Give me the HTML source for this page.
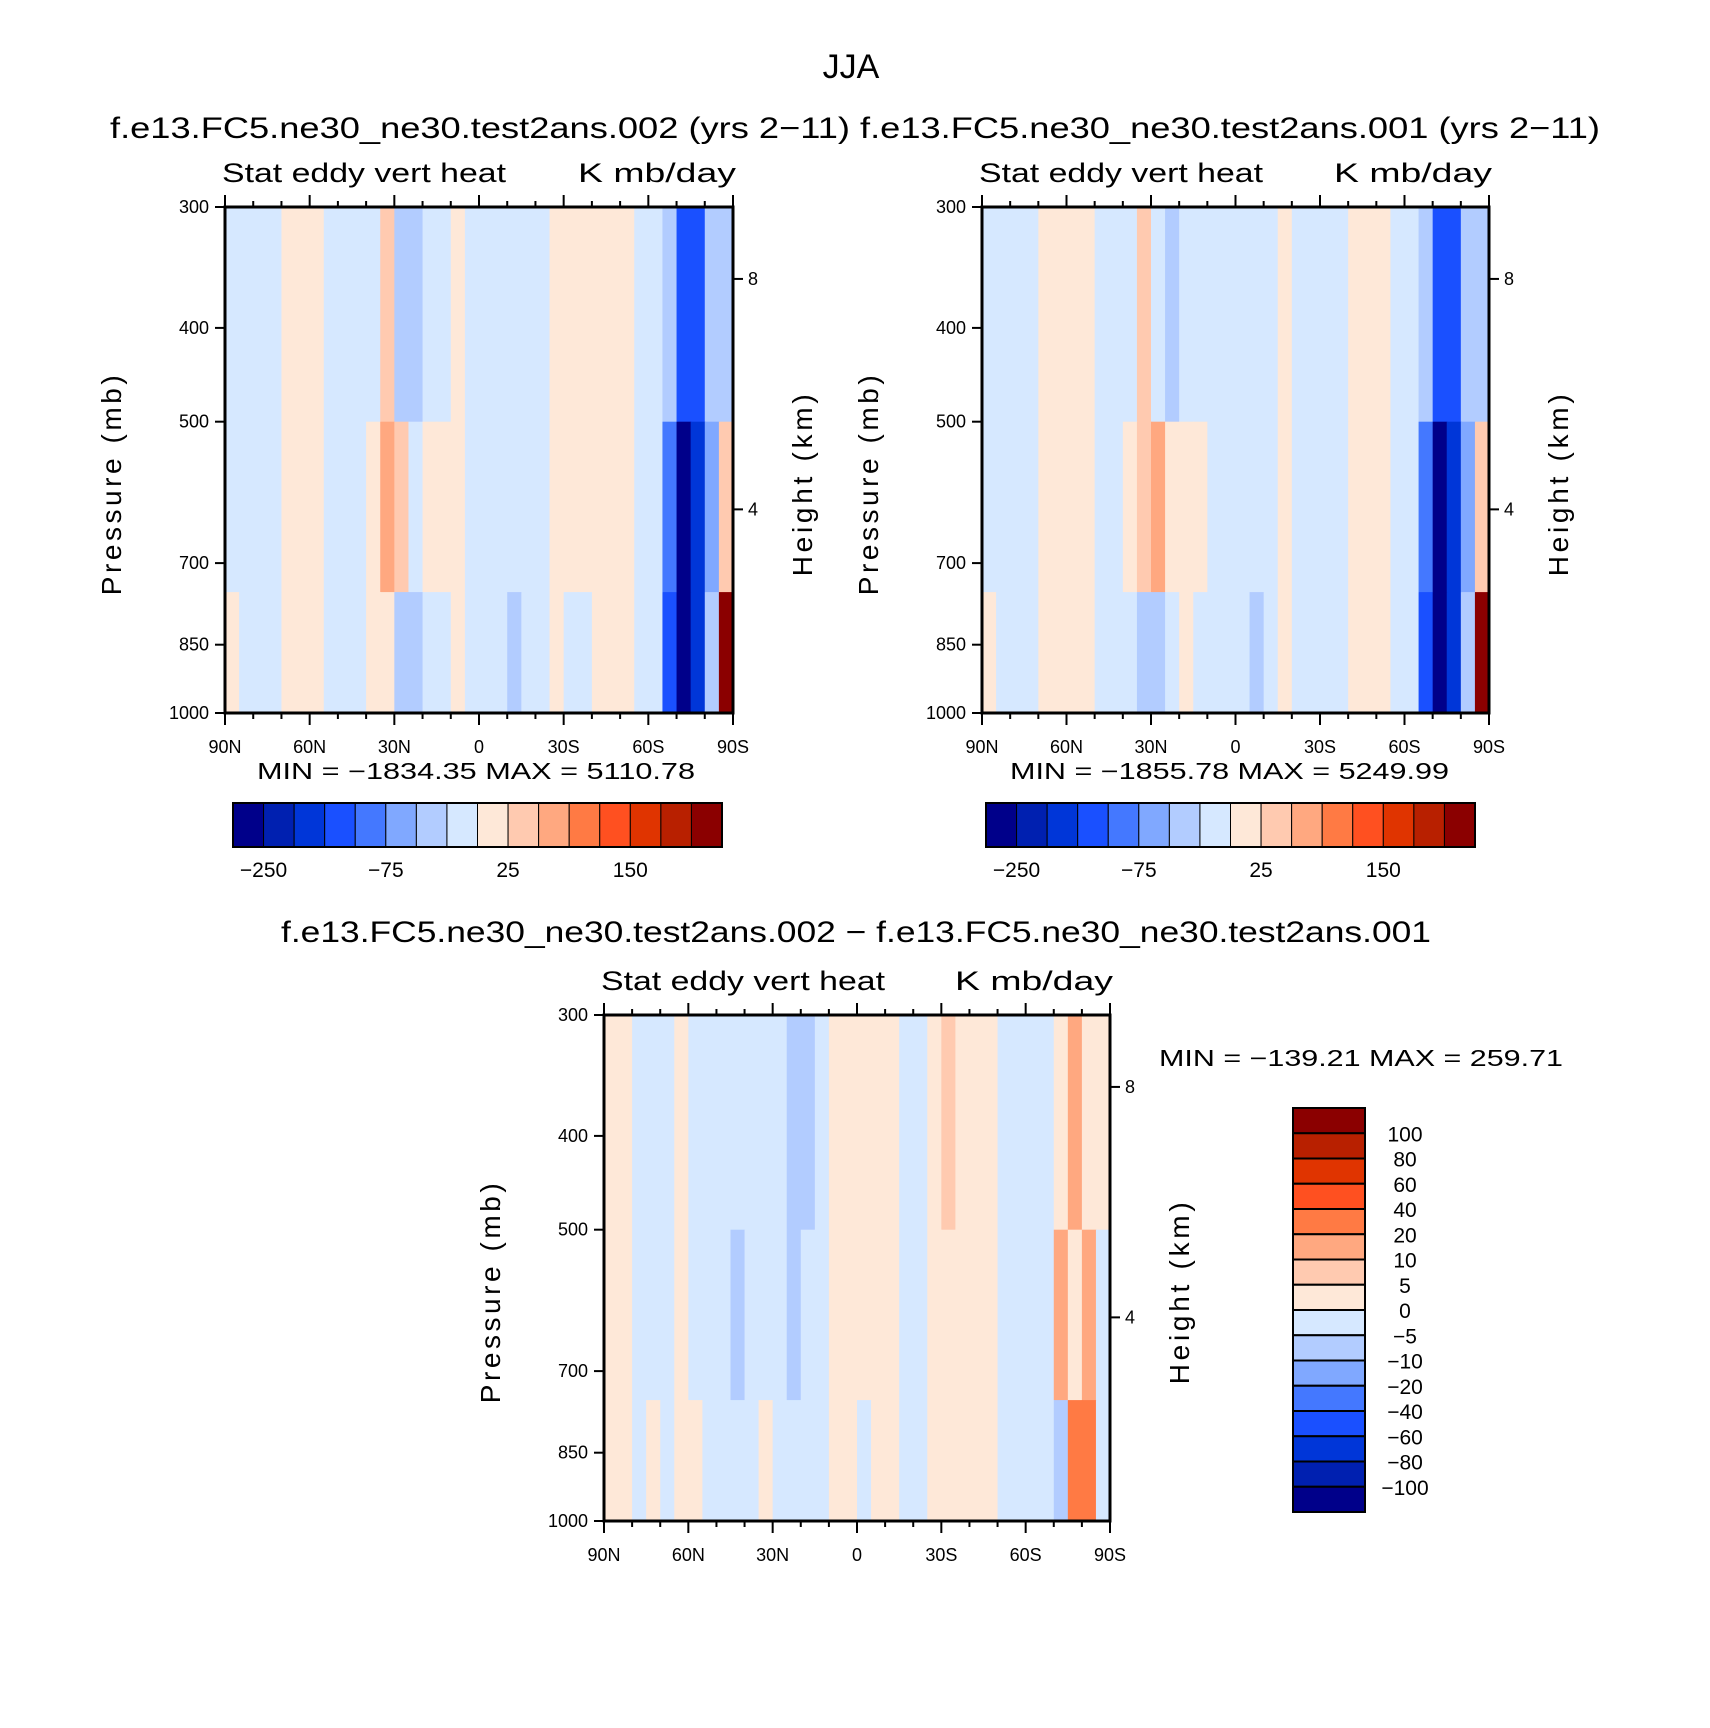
<!DOCTYPE html>
<html><head><meta charset="utf-8"><style>
html,body{margin:0;padding:0;background:#fff}
svg{display:block}
text{font-family:"Liberation Sans",sans-serif;fill:#000}
</style></head><body>
<svg id="fig" width="1710" height="1728" viewBox="0 0 1710 1728">
<text x="851" y="78" font-size="34" text-anchor="middle">JJA</text>
<text x="110" y="138" font-size="30" textLength="1490" lengthAdjust="spacingAndGlyphs">f.e13.FC5.ne30_ne30.test2ans.002 (yrs 2−11) f.e13.FC5.ne30_ne30.test2ans.001 (yrs 2−11)</text>
<text x="281" y="942" font-size="30" textLength="1150" lengthAdjust="spacingAndGlyphs">f.e13.FC5.ne30_ne30.test2ans.002 − f.e13.FC5.ne30_ne30.test2ans.001</text>
</svg>
<script>
// ---- data ----
const latEdges = [90,85,80,75,70,65,60,55,50,45,40,35,30,25,20,15,10,5,0,-5,-10,-15,-20,-25,-30,-35,-40,-45,-50,-55,-60,-65,-70,-75,-80,-85,-90];
const presEdges = [300,500,750,1000];
const latTicks = [90,60,30,0,-30,-60,-90];
const latTickLabels = ['90N','60N','30N','0','30S','60S','90S'];
const presTicks = [300,400,500,700,850,1000];
const heightTicks = [8,4];
const heightTickPres = [356,616];
const fullLevels = [-250,-200,-150,-100,-75,-50,-25,0,25,50,75,100,150,200,250];
const fullLabels = ['-250','-75','25','150'];
const fullLabelIdx = [0,4,8,12];
const diffLevels = [-100,-80,-60,-40,-20,-10,-5,0,5,10,20,40,60,80,100];
const diffLabels = ['100','80','60','40','20','10','5','0','−5','−10','−20','−40','−60','−80','−100'];
const colors = ['#00008a','#0020b0','#0036d8','#1a50ff','#4478ff','#80a8ff','#b2ccff','#d6e8ff','#fee8d8','#ffcab0','#ffa880','#ff7a44','#ff5020','#e03400','#b82000','#8b0000'];
// panel A (.002) values per latitude bin for 3 pressure layers
const aUpper = [-10,-10,-10,-10,10,10,10,-10,-10,-10,-10,30,-30,-30,-10,-10,10,-10,-10,-10,-10,-10,-10,10,10,10,10,10,10,-10,-10,-30,-150,-120,-50,-30];
const aMiddle = [-10,-10,-10,-10,10,10,10,-10,-10,-10,10,60,30,-10,10,10,10,-10,-10,-10,-10,-10,-10,10,10,10,10,10,10,-10,-10,-100,-260,-200,-60,30];
const aLower = [10,-10,-10,-10,10,10,10,-10,-10,-10,10,10,-40,-30,-10,-10,10,-10,-10,-10,-30,-10,-10,10,-10,-10,10,10,10,-10,-10,-150,-260,-200,-30,260];
// panel B (.001)
const bUpper = [-10,-10,-10,-10,10,10,10,10,-10,-10,-10,30,-10,-30,-10,-10,-10,-10,-10,-10,-10,10,-10,-10,-10,-10,10,10,10,-10,-10,-30,-150,-120,-50,-30];
const bMiddle = [-10,-10,-10,-10,10,10,10,10,-10,-10,10,40,60,10,10,10,-10,-10,-10,-10,-10,10,-10,-10,-10,-10,10,10,10,-10,-10,-100,-260,-200,-60,30];
const bLower = [10,-10,-10,-10,10,10,10,10,-10,-10,-10,-40,-30,-10,10,-10,-10,-10,-10,-30,-10,10,-10,-10,-10,-10,10,10,10,-10,-10,-150,-260,-200,-30,260];
// diff panel
const dUpper = [3,3,-3,-3,-3,3,-3,-3,-3,-3,-3,-3,-3,-7,-7,-3,3,3,3,3,3,-3,-3,3,7,3,3,3,-3,-3,-3,-3,3,15,3,3];
const dMiddle = [3,3,-3,-3,-3,3,-3,-3,-3,-7,-3,-3,-3,-7,-3,-3,3,3,3,3,3,-3,-3,3,3,3,3,3,-3,-3,-3,-3,15,3,15,-3];
const dLower = [3,3,-3,3,-3,3,3,-3,-3,-3,-3,3,-3,-3,-3,-3,3,3,-3,3,3,-3,-3,3,3,3,3,3,-3,-3,-3,-3,-10,30,30,-5];

const NS = 'http://www.w3.org/2000/svg';
const fig = document.getElementById('fig');
function el(tag, attrs, parent){const e=document.createElementNS(NS,tag);for(const k in attrs)e.setAttribute(k,attrs[k]);(parent||fig).appendChild(e);return e;}
function levelIndex(v, levels){let i=0;while(i<levels.length && v>=levels[i])i++;return i;}

function drawPanel(px,py,pw,ph,rows,levels,name){
  const xs = lat => px + (90-lat)/180*pw;
  const ys = p => py + ph*Math.log(p/300)/Math.log(1000/300);
  const g = el('g',{});
  
  
  for(let r=0;r<rows.length;r++){
    const vals = rows[r];
    for(let i=0;i<vals.length;i++){
      const x0=xs(latEdges[i]), x1=xs(latEdges[i+1]);
      const y0=ys(presEdges[r]), y1=ys(presEdges[r+1]);
      const c = el('rect',{x:x0,y:y0,width:x1-x0+0.6,height:y1-y0+0.6,fill:colors[levelIndex(vals[i],levels)]},g);
      
      
    }
  }
  el('rect',{x:px,y:py,width:pw,height:ph,fill:'none',stroke:'#000','stroke-width':3},g);
  for(let lat=90;lat>=-90;lat-=10){
    const x=xs(lat);const major=(lat%30===0);const L=major?12:6;
    el('line',{x1:x,y1:py+ph,x2:x,y2:py+ph+L,stroke:'#000','stroke-width':2},g);
    el('line',{x1:x,y1:py,x2:x,y2:py-L,stroke:'#000','stroke-width':2},g);
  }
  latTicks.forEach((lat,k)=>{
    const t=el('text',{x:xs(lat),y:py+ph+40,'font-size':18,'text-anchor':'middle'},g);
    t.textContent=latTickLabels[k];
    
    
  });
  presTicks.forEach(p=>{
    const y=ys(p);
    el('line',{x1:px,y1:y,x2:px-10,y2:y,stroke:'#000','stroke-width':2},g);
    const t=el('text',{x:px-16,y:y+6,'font-size':18,'text-anchor':'end'},g);
    t.textContent=p;
    
    
  });
  heightTickPres.forEach((p,k)=>{
    const y=ys(p);
    el('line',{x1:px+pw,y1:y,x2:px+pw+10,y2:y,stroke:'#000','stroke-width':2},g);
    const t=el('text',{x:px+pw+15,y:y+6,'font-size':18},g);
    t.textContent=heightTicks[k];
    
    
  });
  const cy=py+ph*0.55;
  const pt=el('text',{x:-110,y:0,'font-size':28,textLength:220,lengthAdjust:'spacing',transform:`translate(${px-104},${cy}) rotate(-90)`},g);
  pt.textContent='Pressure  (mb)';
  
  
  const ht=el('text',{x:-91,y:0,'font-size':28,textLength:182,lengthAdjust:'spacing',transform:`translate(${px+pw+79},${cy}) rotate(-90)`},g);
  ht.textContent='Height  (km)';
  
  
  const s1=el('text',{x:px-3,y:py-25,'font-size':27,textLength:284,lengthAdjust:'spacingAndGlyphs'},g);
  s1.textContent='Stat eddy vert heat';
  
  
  const s2=el('text',{x:px+pw+3,y:py-25,'font-size':27,'text-anchor':'end',textLength:158,lengthAdjust:'spacingAndGlyphs'},g);
  s2.textContent='K mb/day';
  
  
}

function hColorbar(x,y,w,h,name){
  const g=el('g',{});
  
  
  const bw=w/colors.length;
  colors.forEach((c,i)=>{
    const r=el('rect',{x:x+i*bw,y:y,width:bw,height:h,fill:c,stroke:'#000','stroke-width':1},g);
    
    
  });
  el('rect',{x:x,y:y,width:w,height:h,fill:'none',stroke:'#000','stroke-width':2},g);
  fullLabels.forEach((lab,k)=>{
    const t=el('text',{x:x+(fullLabelIdx[k]+1)*bw,y:y+h+30,'font-size':21,'text-anchor':'middle'},g);
    t.textContent=lab.replace('-','−');
    
    
  });
}

drawPanel(225,207,508,506,[aUpper,aMiddle,aLower],fullLevels,'panel-002');
drawPanel(982,207,507,506,[bUpper,bMiddle,bLower],fullLevels,'panel-001');
drawPanel(604,1015,506,506,[dUpper,dMiddle,dLower],diffLevels,'panel-diff');

hColorbar(233,803,489,44,'colorbar-002');
hColorbar(986,803,489,44,'colorbar-001');

(function(){
  const x=1293,y=1108,w=72,h=404;
  const g=el('g',{});
  
  
  const bh=h/colors.length;
  for(let i=0;i<colors.length;i++){
    const r=el('rect',{x:x,y:y+i*bh,width:w,height:bh,fill:colors[colors.length-1-i],stroke:'#000','stroke-width':2},g);
    
    
  }
  diffLabels.forEach((lab,k)=>{
    const t=el('text',{x:x+w+40,y:y+(k+1)*bh+8,'font-size':21,'text-anchor':'middle'},g);
    t.textContent=lab;
    
    
  });
})();

[[257,779,438,'MIN = −1834.35   MAX = 5110.78'],[1010,779,439,'MIN = −1855.78   MAX = 5249.99'],[1159,1066,404,'MIN = −139.21   MAX = 259.71']].forEach(a=>{
  const t=el('text',{x:a[0],y:a[1],'font-size':23,textLength:a[2],lengthAdjust:'spacingAndGlyphs'});
  t.textContent=a[3];
  
  
});
</script>
</body></html>
